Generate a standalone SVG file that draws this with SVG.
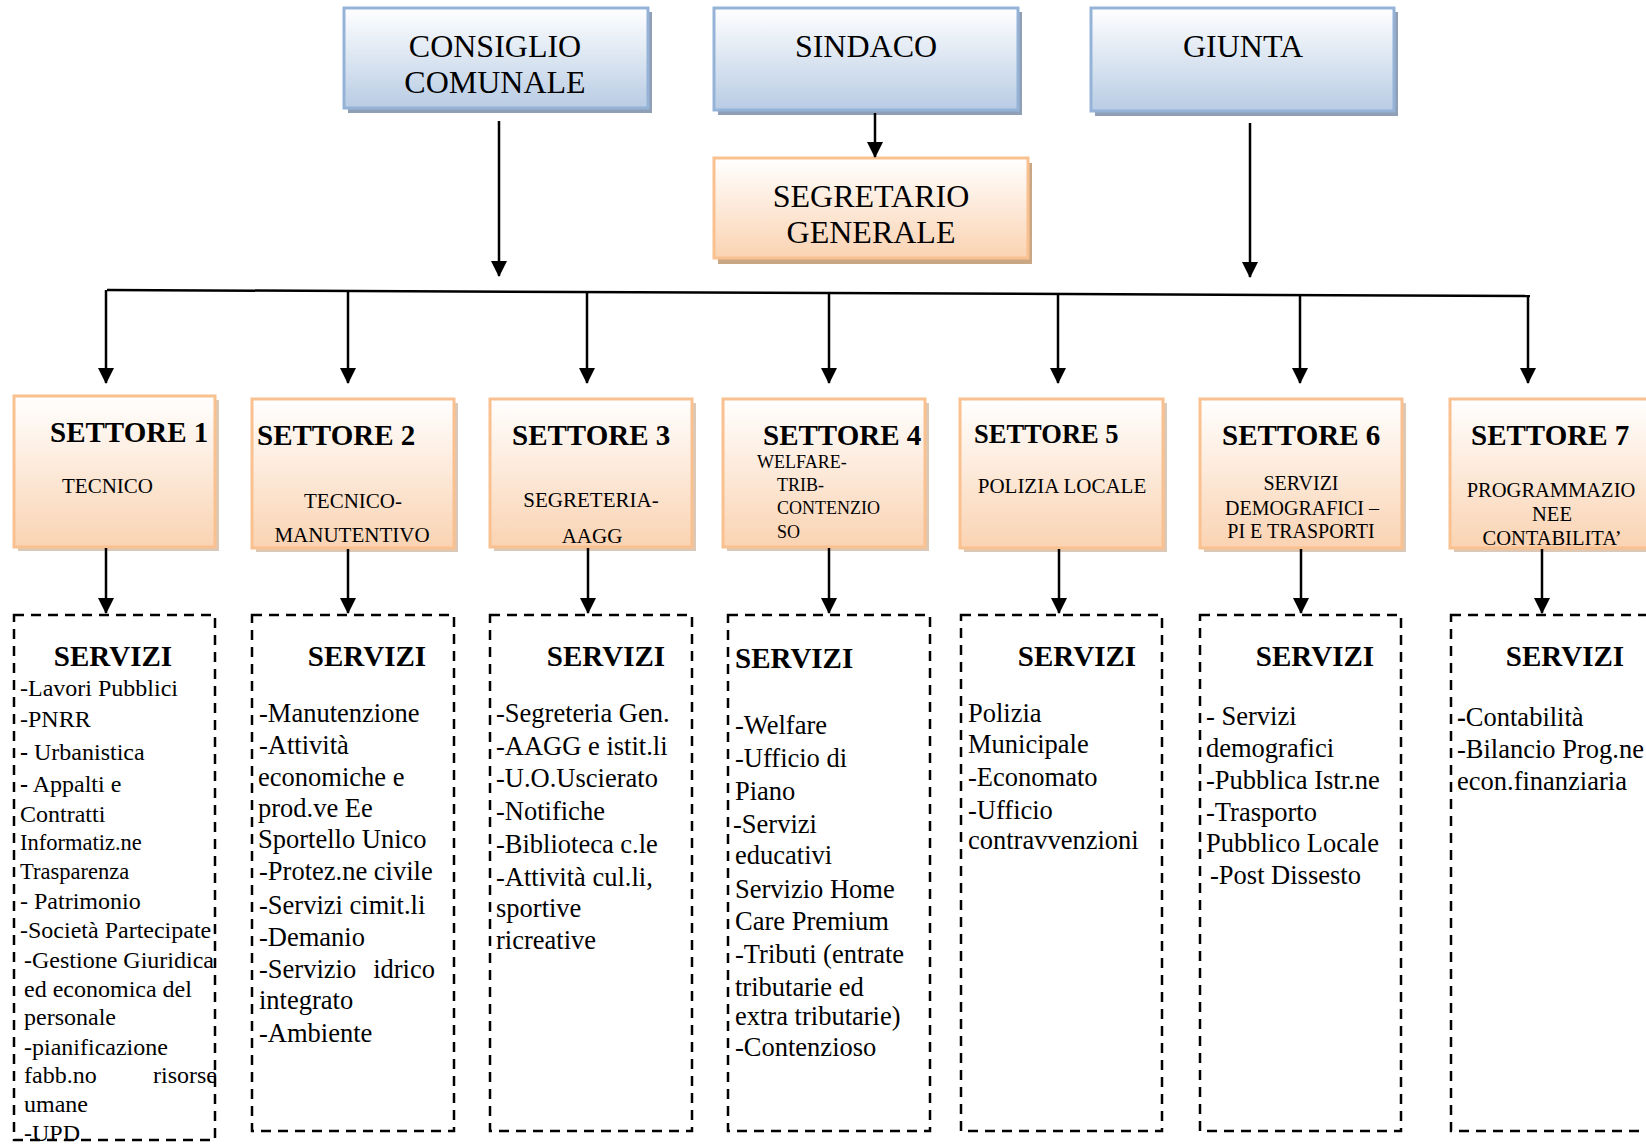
<svg xmlns="http://www.w3.org/2000/svg" width="1646" height="1144" viewBox="0 0 1646 1144">
<defs>
<linearGradient id="gBlue" x1="0" y1="0" x2="0" y2="1">
<stop offset="0" stop-color="#ffffff"/><stop offset="1" stop-color="#b8cce4"/>
</linearGradient>
<linearGradient id="gOrange" x1="0" y1="0" x2="0" y2="1">
<stop offset="0" stop-color="#ffffff"/><stop offset="1" stop-color="#fad3b2"/>
</linearGradient>
<marker id="arr" markerUnits="userSpaceOnUse" markerWidth="18" markerHeight="16" refX="15" refY="8" orient="auto">
<path d="M0,0 L16,8 L0,16 Z" fill="#000"/>
</marker>
<style>
text{font-family:"Liberation Serif","Times New Roman",serif;fill:#000}
.top{fill:url(#gBlue);stroke:#95b3d7;stroke-width:3}
.topsh{fill:#8e9fb6}
.org{fill:url(#gOrange);stroke:#f9c090;stroke-width:3}
.orgsh{fill:#c9a684}
.setsh{fill:#dcc8b6}
.t32{font-size:32px;text-anchor:middle}
.st{font-size:29px;font-weight:bold}
.sub{font-size:21px}
.dash{fill:none;stroke:#000;stroke-width:2.5;stroke-dasharray:10 7}
.serv{font-size:29px;font-weight:bold}
.s24{font-size:24px}
.s26{font-size:26.5px}
.conn line{stroke:#000;stroke-width:2.5}
</style>
</defs>
<rect width="1646" height="1144" fill="#fff"/>

<g id="consiglio">
<rect class="topsh" x="348" y="12" width="304" height="101"/>
<rect class="top" x="344" y="8" width="304" height="100"/>
<text class="t32" x="495" y="57">CONSIGLIO</text>
<text class="t32" x="495" y="93">COMUNALE</text>
</g>
<g id="sindaco">
<rect class="topsh" x="718" y="12" width="304" height="103"/>
<rect class="top" x="714" y="8" width="304" height="102"/>
<text class="t32" x="866" y="57">SINDACO</text>
</g>
<g id="giunta">
<rect class="topsh" x="1095" y="12" width="303" height="104"/>
<rect class="top" x="1091" y="8" width="303" height="103"/>
<text class="t32" x="1243" y="57">GIUNTA</text>
</g>
<g id="segretario">
<rect class="orgsh" x="718" y="163" width="314" height="101"/>
<rect class="org" x="714" y="158" width="314" height="100"/>
<text class="t32" x="871" y="207">SEGRETARIO</text>
<text class="t32" x="871" y="243">GENERALE</text>
</g>

<g id="settore1">
<rect class="setsh" x="18" y="400" width="201" height="151"/>
<rect class="org" x="14" y="396" width="201" height="151"/>
<text class="st" x="50" y="442">SETTORE 1</text>
<text class="sub" x="62" y="493">TECNICO</text>
</g>
<g id="settore2">
<rect class="setsh" x="256" y="403" width="202" height="149"/>
<rect class="org" x="252" y="399" width="202" height="149"/>
<text class="st" x="257" y="445">SETTORE 2</text>
<text class="sub" x="353" y="508" text-anchor="middle">TECNICO-</text>
<text class="sub" x="352" y="542" text-anchor="middle">MANUTENTIVO</text>
</g>
<g id="settore3">
<rect class="setsh" x="494" y="403" width="202" height="148"/>
<rect class="org" x="490" y="399" width="202" height="148"/>
<text class="st" x="512" y="445">SETTORE 3</text>
<text class="sub" x="591" y="507" text-anchor="middle">SEGRETERIA-</text>
<text class="sub" x="592" y="543" text-anchor="middle">AAGG</text>
</g>
<g id="settore4">
<rect class="setsh" x="727" y="403" width="202" height="148"/>
<rect class="org" x="723" y="399" width="202" height="148"/>
<text class="st" x="763" y="445">SETTORE 4</text>
<text x="757" y="468" style="font-size:18px">WELFARE-</text>
<text x="777" y="491" style="font-size:18px">TRIB-</text>
<text x="777" y="514" style="font-size:18px">CONTENZIO</text>
<text x="777" y="538" style="font-size:18px">SO</text>
</g>
<g id="settore5">
<rect class="setsh" x="964" y="403" width="203" height="149"/>
<rect class="org" x="960" y="399" width="203" height="149"/>
<text x="974" y="443" style="font-size:26.5px;font-weight:bold">SETTORE 5</text>
<text class="sub" x="1062" y="493" text-anchor="middle">POLIZIA LOCALE</text>
</g>
<g id="settore6">
<rect class="setsh" x="1204" y="403" width="202" height="149"/>
<rect class="org" x="1200" y="399" width="202" height="149"/>
<text class="st" x="1222" y="445">SETTORE 6</text>
<text x="1301" y="490" text-anchor="middle" style="font-size:20px">SERVIZI</text>
<text x="1302" y="515" text-anchor="middle" style="font-size:20px">DEMOGRAFICI –</text>
<text x="1301" y="538" text-anchor="middle" style="font-size:20px">PI E TRASPORTI</text>
</g>
<g id="settore7">
<rect class="setsh" x="1454" y="403" width="210" height="149"/>
<rect class="org" x="1450" y="399" width="210" height="149"/>
<text class="st" x="1471" y="445">SETTORE 7</text>
<text x="1551" y="497" text-anchor="middle" style="font-size:20.5px">PROGRAMMAZIO</text>
<text x="1552" y="521" text-anchor="middle" style="font-size:20.5px">NEE</text>
<text x="1552" y="545" text-anchor="middle" style="font-size:20.5px">CONTABILITA’</text>
</g>

<g id="servizi1">
<rect class="dash" x="14" y="615" width="201" height="525"/>
<text class="serv" x="113" y="666" text-anchor="middle">SERVIZI</text>
<g class="s24">
<text x="20" y="696">-Lavori Pubblici</text>
<text x="20" y="727">-PNRR</text>
<text x="20" y="760"><tspan font-weight="bold">-</tspan> Urbanistica</text>
<text x="20" y="792"><tspan font-weight="bold">-</tspan> Appalti e</text>
<text x="20" y="822">Contratti</text>
<text x="20" y="850" style="font-size:22.5px">Informatiz.ne</text>
<text x="20" y="879" style="font-size:22.5px">Trasparenza</text>
<text x="20" y="909">- Patrimonio</text>
<text x="20" y="938">-Società Partecipate</text>
<text x="24" y="968">-Gestione Giuridica</text>
<text x="24" y="997">ed economica del</text>
<text x="24" y="1025">personale</text>
<text x="24" y="1055">-pianificazione</text>
<text y="1083"><tspan x="24">fabb.no</tspan><tspan x="217" text-anchor="end">risorse</tspan></text>
<text x="24" y="1112">umane</text>
<text x="24" y="1141">-UPD</text>
</g>
</g>
<g id="servizi2">
<rect class="dash" x="252" y="615" width="202" height="516"/>
<text class="serv" x="367" y="666" text-anchor="middle">SERVIZI</text>
<g class="s26">
<text x="259" y="722">-Manutenzione</text>
<text x="259" y="754">-Attività</text>
<text x="258" y="786">economiche e</text>
<text x="258" y="817">prod.ve Ee</text>
<text x="258" y="848">Sportello Unico</text>
<text x="259" y="880">-Protez.ne civile</text>
<text x="259" y="914">-Servizi cimit.li</text>
<text x="259" y="946">-Demanio</text>
<text y="978"><tspan x="259">-Servizio</tspan><tspan x="435" text-anchor="end">idrico</tspan></text>
<text x="259" y="1009">integrato</text>
<text x="259" y="1042">-Ambiente</text>
</g>
</g>
<g id="servizi3">
<rect class="dash" x="490" y="615" width="202" height="516"/>
<text class="serv" x="606" y="666" text-anchor="middle">SERVIZI</text>
<g class="s26">
<text x="496" y="722">-Segreteria Gen.</text>
<text x="496" y="755">-AAGG e istit.li</text>
<text x="496" y="787">-U.O.Uscierato</text>
<text x="496" y="820">-Notifiche</text>
<text x="496" y="853">-Biblioteca c.le</text>
<text x="496" y="886">-Attività cul.li,</text>
<text x="496" y="917">sportive</text>
<text x="496" y="949">ricreative</text>
</g>
</g>
<g id="servizi4">
<rect class="dash" x="728" y="615" width="202" height="516"/>
<text class="serv" x="735" y="668">SERVIZI</text>
<g class="s26">
<text x="735" y="734">-Welfare</text>
<text x="735" y="767">-Ufficio di</text>
<text x="735" y="800">Piano</text>
<text x="733" y="833">-Servizi</text>
<text x="735" y="864">educativi</text>
<text x="735" y="898">Servizio Home</text>
<text x="735" y="930">Care Premium</text>
<text x="735" y="963">-Tributi (entrate</text>
<text x="735" y="996">tributarie ed</text>
<text x="735" y="1025">extra tributarie)</text>
<text x="735" y="1056">-Contenzioso</text>
</g>
</g>
<g id="servizi5">
<rect class="dash" x="961" y="615" width="201" height="516"/>
<text class="serv" x="1077" y="666" text-anchor="middle">SERVIZI</text>
<g class="s26">
<text x="968" y="722">Polizia</text>
<text x="968" y="753">Municipale</text>
<text x="968" y="786">-Economato</text>
<text x="968" y="819">-Ufficio</text>
<text x="968" y="849">contravvenzioni</text>
</g>
</g>
<g id="servizi6">
<rect class="dash" x="1200" y="615" width="201" height="516"/>
<text class="serv" x="1315" y="666" text-anchor="middle">SERVIZI</text>
<g class="s26">
<text x="1206" y="725">- Servizi</text>
<text x="1206" y="757">demografici</text>
<text x="1206" y="789">-Pubblica Istr.ne</text>
<text x="1206" y="821">-Trasporto</text>
<text x="1206" y="852">Pubblico Locale</text>
<text x="1210" y="884">-Post Dissesto</text>
</g>
</g>
<g id="servizi7">
<rect class="dash" x="1451" y="615" width="210" height="516"/>
<text class="serv" x="1565" y="666" text-anchor="middle">SERVIZI</text>
<g class="s26">
<text x="1457" y="726"><tspan font-weight="bold">-</tspan>Contabilità</text>
<text x="1457" y="758">-Bilancio Prog.ne</text>
<text x="1457" y="790">econ.finanziaria</text>
</g>
</g>

<g id="connectors" class="conn">
<line x1="499" y1="121" x2="499" y2="276" marker-end="url(#arr)"/>
<line x1="875" y1="113" x2="875" y2="157" marker-end="url(#arr)"/>
<line x1="1250" y1="123" x2="1250" y2="277" marker-end="url(#arr)"/>
<line x1="107" y1="290" x2="1530" y2="296"/>
<line x1="106" y1="290" x2="106" y2="383" marker-end="url(#arr)"/>
<line x1="348" y1="291" x2="348" y2="383" marker-end="url(#arr)"/>
<line x1="587" y1="292" x2="587" y2="383" marker-end="url(#arr)"/>
<line x1="829" y1="293" x2="829" y2="383" marker-end="url(#arr)"/>
<line x1="1058" y1="294" x2="1058" y2="383" marker-end="url(#arr)"/>
<line x1="1300" y1="295" x2="1300" y2="383" marker-end="url(#arr)"/>
<line x1="1528" y1="296" x2="1528" y2="383" marker-end="url(#arr)"/>
<line x1="106" y1="548" x2="106" y2="613" marker-end="url(#arr)"/>
<line x1="348" y1="549" x2="348" y2="613" marker-end="url(#arr)"/>
<line x1="588" y1="548" x2="588" y2="613" marker-end="url(#arr)"/>
<line x1="829" y1="548" x2="829" y2="613" marker-end="url(#arr)"/>
<line x1="1059" y1="549" x2="1059" y2="613" marker-end="url(#arr)"/>
<line x1="1301" y1="549" x2="1301" y2="613" marker-end="url(#arr)"/>
<line x1="1542" y1="549" x2="1542" y2="613" marker-end="url(#arr)"/>
</g>
</svg>
